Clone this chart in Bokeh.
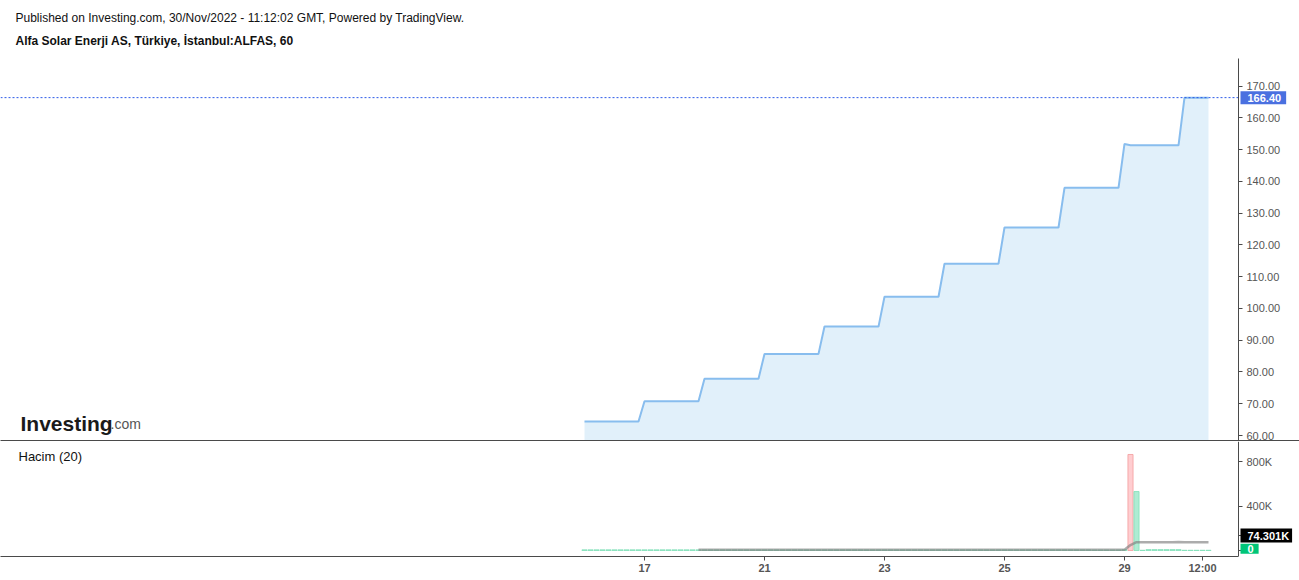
from bokeh.plotting import figure
from bokeh.layouts import column
from bokeh.models import Range1d, LinearAxis, FixedTicker, Label, NumeralTickFormatter
from bokeh.embed import file_html
from bokeh.resources import INLINE
import pandas as pd

# ---------------- data ----------------
day_labels = ["16", "17", "18", "21", "22", "23", "24", "25", "28", "29", "30"]
bars_per_day = 10  # hourly bars per trading day

# hourly close prices, one row per trading day
price_rows = [
    [64.4, 64.4, 64.4, 64.4, 64.4, 64.4, 64.4, 64.4, 64.4, 64.4],
    [70.8, 70.8, 70.8, 70.8, 70.8, 70.8, 70.8, 70.8, 70.8, 70.8],
    [77.9, 77.9, 77.9, 77.9, 77.9, 77.9, 77.9, 77.9, 77.9, 77.9],
    [85.7, 85.7, 85.7, 85.7, 85.7, 85.7, 85.7, 85.7, 85.7, 85.7],
    [94.3, 94.3, 94.3, 94.3, 94.3, 94.3, 94.3, 94.3, 94.3, 94.3],
    [103.7, 103.7, 103.7, 103.7, 103.7, 103.7, 103.7, 103.7, 103.7, 103.7],
    [114.1, 114.1, 114.1, 114.1, 114.1, 114.1, 114.1, 114.1, 114.1, 114.1],
    [125.5, 125.5, 125.5, 125.5, 125.5, 125.5, 125.5, 125.5, 125.5, 125.5],
    [138.0, 138.0, 138.0, 138.0, 138.0, 138.0, 138.0, 138.0, 138.0, 138.0],
    [151.8, 151.4, 151.4, 151.4, 151.4, 151.4, 151.4, 151.4, 151.4, 151.4],
    [166.4, 166.4, 166.4, 166.4, 166.4],
]

# hourly volume (thousands), one row per trading day
volume_rows = [
    [6, 6, 6, 6, 6, 6, 6, 6, 6, 6],
    [6, 6, 6, 6, 6, 6, 6, 6, 6, 6],
    [6, 6, 6, 6, 6, 6, 6, 6, 6, 6],
    [6, 6, 6, 6, 6, 6, 6, 6, 6, 6],
    [6, 6, 6, 6, 6, 6, 6, 6, 6, 6],
    [6, 6, 6, 6, 6, 6, 6, 6, 6, 6],
    [6, 6, 6, 6, 6, 6, 6, 6, 6, 6],
    [6, 6, 6, 6, 6, 6, 6, 6, 6, 6],
    [6, 6, 6, 6, 6, 5, 5, 5, 5, 5],
    [8, 863, 530, 2, 8, 8, 8, 8, 8, 8],
    [2, 2, 2, 2, 2],
]
down_bars = [(9, 1)]  # (day, bar) of the falling bar

x_ticks = [1, 3, 5, 7, 9, 10.3]
x_tick_labels = ["17", "21", "23", "25", "29", "12:00"]
price_ticks = [60, 70, 80, 90, 100, 110, 120, 130, 140, 150, 160, 170]
vol_ticks = [0, 134800, 400000, 800000]
vol_tick_labels = ["", "", "400K", "800K"]
last_price = 166.4
last_ma_text = "74.301K"
ma_length = 20

# ---------------- build series ----------------
xs, prices, vols, fills, lines = [], [], [], [], []
for d, (prow, vrow) in enumerate(zip(price_rows, volume_rows)):
    for i, (pv, vv) in enumerate(zip(prow, vrow)):
        xs.append(d + i / bars_per_day)
        prices.append(pv)
        vols.append(vv * 1000)
        if (d, i) in down_bars:
            fills.append("#ffcdd0"); lines.append("#f39c9c")
        else:
            fills.append("#aeecd3"); lines.append("#80e0b8")
ma = pd.Series(vols).rolling(ma_length).mean().tolist()

FONT = "Liberation Sans"
AX = "#4a4a4a"
LAB = "#555555"

# pixel helpers (for placing axes / annotations only)
def xd(px):
    return (px - 584) / 60.0

def y1d(py):
    return 60 + (435 - py) / 3.1755

def y2d(py):
    return (550 - py) / 44.5 * 400000

AXIS_X = xd(1238)
xr = Range1d(xd(0), xd(1299))

def style_axis(ax, size="11px", bold=False):
    ax.major_tick_out = 4
    ax.major_tick_in = 0
    ax.minor_tick_line_color = None
    ax.axis_line_color = AX
    ax.major_tick_line_color = AX
    ax.major_label_text_font = FONT
    ax.major_label_text_font_size = size
    ax.major_label_text_color = LAB
    if bold:
        ax.major_label_text_font_style = "bold"

def box_label(p, y, text, bg, pad):
    p.add_layout(Label(x=xd(1240), y=y, text=text, text_color="white",
                       text_font=FONT, text_font_size="11px", text_font_style="bold",
                       text_baseline="middle", text_align="left",
                       background_fill_color=bg, padding=pad))

# ---------------- price pane ----------------
p1 = figure(width=1299, height=441, x_range=xr, y_range=Range1d(y1d(440), y1d(0)),
            output_backend="svg", toolbar_location=None, x_axis_location=None,
            y_axis_location="right", min_border_left=0, min_border_right=0,
            min_border_top=0, min_border_bottom=1)
p1.outline_line_color = None
p1.grid.visible = False

ya = p1.yaxis[0]
ya.fixed_location = AXIS_X
ya.bounds = (y1d(440), y1d(58))
ya.ticker = FixedTicker(ticks=price_ticks)
ya.formatter = NumeralTickFormatter(format="0.00")
ya.major_label_standoff = 4
style_axis(ya)

sep = LinearAxis(ticker=FixedTicker(ticks=[]), major_tick_out=0, major_tick_in=0,
                 minor_tick_out=0, minor_tick_in=0, major_label_standoff=0,
                 axis_line_color=AX)
p1.add_layout(sep, "below")

p1.varea(x=xs, y1=y1d(440), y2=prices, fill_color="#e1f0fa")
p1.line(xs, prices, line_color="#88bdee", line_width=2)
p1.line(x=[xd(0), AXIS_X], y=[last_price, last_price], line_color="#2d5be8",
        line_dash="2 2", line_width=1)
box_label(p1, last_price, "%.2f" % last_price, "#4a70e0",
          dict(left=7, right=5, top=3, bottom=2))

p1.add_layout(Label(x=xd(15), y=y1d(17),
                    text="Published on Investing.com, 30/Nov/2022 - 11:12:02 GMT, Powered by TradingView.",
                    text_font=FONT, text_font_size="12px", text_color="#111111",
                    text_baseline="middle"))
p1.add_layout(Label(x=xd(15), y=y1d(40),
                    text="Alfa Solar Enerji AS, Türkiye, İstanbul:ALFAS, 60",
                    text_font=FONT, text_font_size="12px", text_font_style="bold",
                    text_color="#111111", text_baseline="middle"))
p1.add_layout(Label(x=xd(20), y=y1d(423), text="Investing", text_font=FONT,
                    text_font_size="21px", text_font_style="bold", text_color="#1a1a1a",
                    text_baseline="alphabetic"))
p1.add_layout(Label(x=xd(110), y=y1d(423), text=".com", text_font=FONT,
                    text_font_size="14px", text_color="#555555",
                    text_baseline="alphabetic"))

# ---------------- volume pane ----------------
p2 = figure(width=1299, height=139, x_range=xr, y_range=Range1d(y2d(556), y2d(441)),
            output_backend="svg", toolbar_location=None, y_axis_location="right",
            min_border_left=0, min_border_right=0, min_border_top=0, min_border_bottom=24)
p2.outline_line_color = None
p2.grid.visible = False

xa = p2.xaxis[0]
xa.bounds = (xd(0), AXIS_X)
xa.ticker = FixedTicker(ticks=x_ticks)
xa.major_label_overrides = {t: l for t, l in zip(x_ticks, x_tick_labels)}
xa.major_label_standoff = 1
style_axis(xa, bold=True)

va = p2.yaxis[0]
va.fixed_location = AXIS_X
va.ticker = FixedTicker(ticks=vol_ticks)
va.major_label_overrides = {t: l for t, l in zip(vol_ticks, vol_tick_labels)}
va.major_label_standoff = 4
style_axis(va)

p2.vbar(x=xs, top=vols, bottom=0, width=0.085, fill_color=fills, line_color=lines,
        line_width=0.8)
p2.line(xs[ma_length - 1:], ma[ma_length - 1:], line_color="#808080", line_alpha=0.65,
        line_width=2.5)

box_label(p2, y2d(535), last_ma_text, "#000000", dict(left=7, right=3, top=1, bottom=1))
box_label(p2, y2d(548.3), "0", "#00c578", dict(left=7, right=5, top=1, bottom=1))
p2.add_layout(Label(x=xd(18), y=y2d(456), text="Hacim (20)", text_font=FONT,
                    text_font_size="13px", text_color="#111111", text_baseline="middle"))

layout = column(p1, p2, spacing=0)
open("out.html", "w").write(file_html(layout, INLINE))
